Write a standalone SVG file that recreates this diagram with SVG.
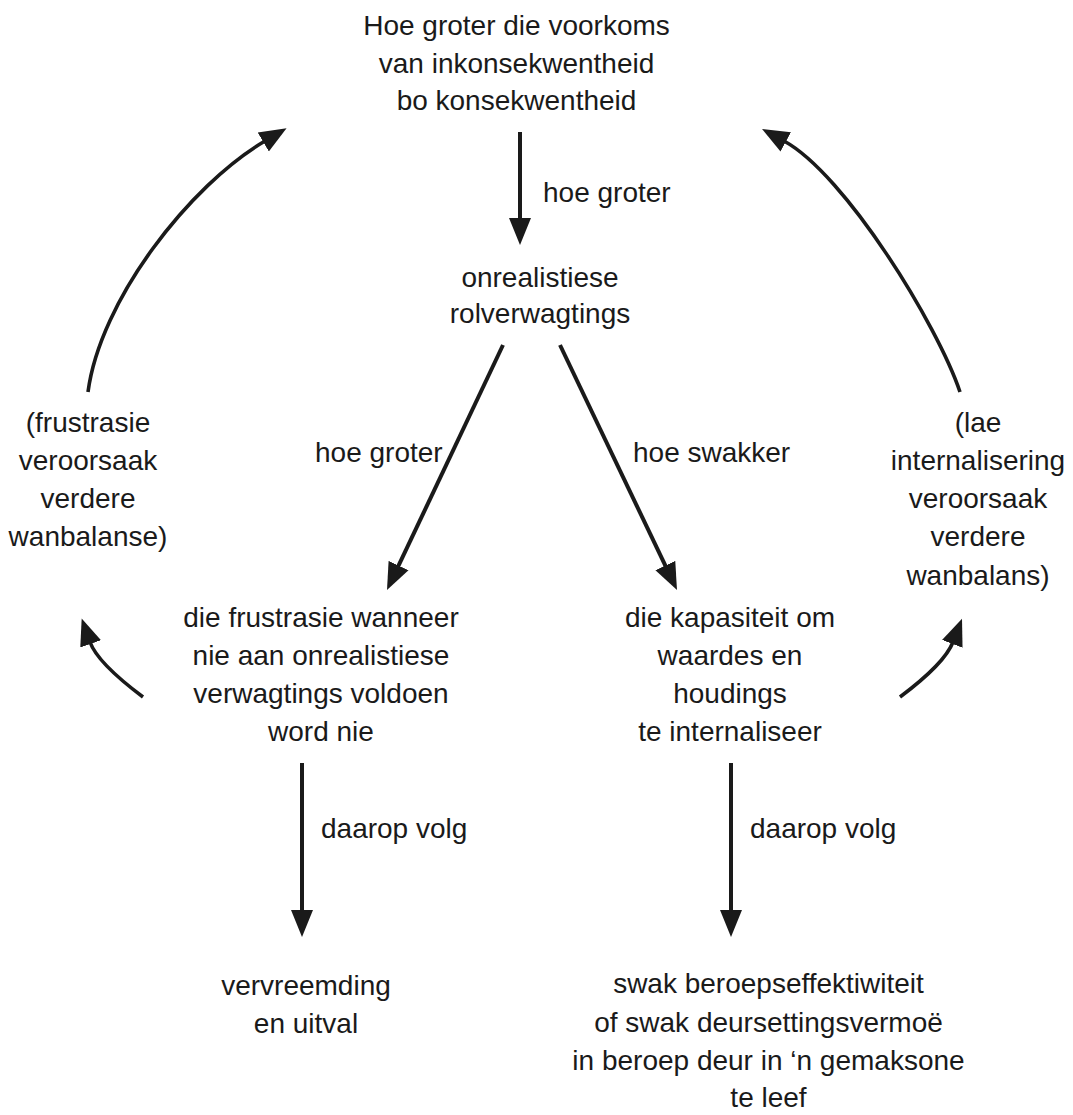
<svg xmlns="http://www.w3.org/2000/svg" width="1073" height="1115" viewBox="0 0 1073 1115">
  <defs>
    <marker id="ah" markerUnits="userSpaceOnUse" markerWidth="28" markerHeight="24" refX="2" refY="11" orient="auto" viewBox="0 0 28 22">
      <path d="M0,0 L27,11 L0,22 z" fill="#1a1a1a"/>
    </marker>
    <style>
      text { font-family: "Liberation Sans", Arial, sans-serif; font-size: 28px; fill: #1a1a1a; }
      .c { text-anchor: middle; }
      .edge { fill: none; stroke: #1a1a1a; stroke-width: 4; marker-end: url(#ah); }
      .curve { fill: none; stroke: #1a1a1a; stroke-width: 3.6; marker-end: url(#ah); }
    </style>
  </defs>
  <rect width="1073" height="1115" fill="#ffffff"/>

  <g id="connectors">
    <line class="edge" x1="520" y1="132" x2="520" y2="220"/>
    <line class="edge" x1="503" y1="345" x2="397.7" y2="567.4"/>
    <line class="edge" x1="560" y1="345" x2="666.2" y2="567.4"/>
    <line class="edge" x1="302" y1="763" x2="302" y2="912"/>
    <line class="edge" x1="731" y1="763" x2="731" y2="912"/>
    <path class="curve" d="M88,392 C100,300 190,185 265,141"/>
    <path class="curve" d="M960,392 C937.6,325.5 845.5,174.5 784,141"/>
    <path class="curve" d="M143,697 Q97.3,662.7 90,642"/>
    <path class="curve" d="M900,697 Q944.7,663.5 953,642"/>
  </g>

  <g id="edge-labels">
    <text x="543" y="202">hoe groter</text>
    <text x="315" y="462">hoe groter</text>
    <text x="633" y="462">hoe swakker</text>
    <text x="321" y="838">daarop volg</text>
    <text x="750" y="838">daarop volg</text>
  </g>

  <g id="node-top">
    <text class="c" x="516.5" y="35">Hoe groter die voorkoms</text>
    <text class="c" x="516.5" y="73">van inkonsekwentheid</text>
    <text class="c" x="516.5" y="110">bo konsekwentheid</text>
  </g>

  <g id="node-rolverwagtings">
    <text class="c" x="540" y="287">onrealistiese</text>
    <text class="c" x="540" y="323">rolverwagtings</text>
  </g>

  <g id="node-frustrasie">
    <text class="c" x="321" y="627">die frustrasie wanneer</text>
    <text class="c" x="321" y="665">nie aan onrealistiese</text>
    <text class="c" x="321" y="703">verwagtings voldoen</text>
    <text class="c" x="321" y="741">word nie</text>
  </g>

  <g id="node-kapasiteit">
    <text class="c" x="730" y="627">die kapasiteit om</text>
    <text class="c" x="730" y="665">waardes en</text>
    <text class="c" x="730" y="703">houdings</text>
    <text class="c" x="730" y="741">te internaliseer</text>
  </g>

  <g id="node-left-loop">
    <text class="c" x="88" y="432">(frustrasie</text>
    <text class="c" x="88" y="470">veroorsaak</text>
    <text class="c" x="88" y="508">verdere</text>
    <text class="c" x="88" y="546">wanbalanse)</text>
  </g>

  <g id="node-right-loop">
    <text class="c" x="978" y="432">(lae</text>
    <text class="c" x="978" y="470">internalisering</text>
    <text class="c" x="978" y="508">veroorsaak</text>
    <text class="c" x="978" y="546">verdere</text>
    <text class="c" x="978" y="585">wanbalans)</text>
  </g>

  <g id="node-vervreemding">
    <text class="c" x="306" y="995">vervreemding</text>
    <text class="c" x="306" y="1033">en uitval</text>
  </g>

  <g id="node-beroep">
    <text class="c" x="768.5" y="993">swak beroepseffektiwiteit</text>
    <text class="c" x="768.5" y="1032">of swak deursettingsvermoë</text>
    <text class="c" x="768.5" y="1070">in beroep deur in ‘n gemaksone</text>
    <text class="c" x="768.5" y="1107">te leef</text>
  </g>
</svg>
